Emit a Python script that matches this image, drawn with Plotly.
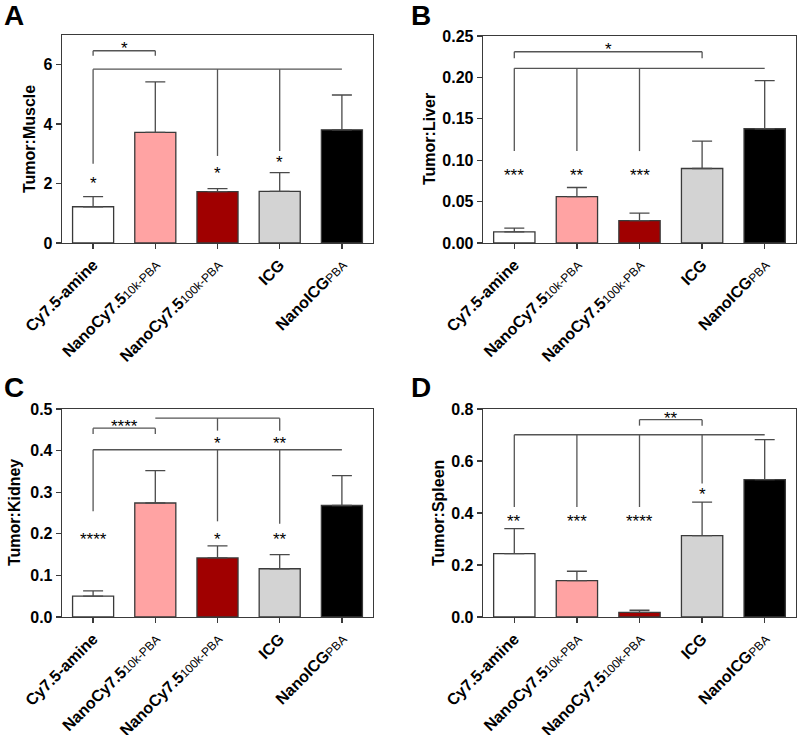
import plotly.graph_objects as go

# ---------------- data ----------------
groups = [0, 1, 2, 3, 4]
tick_labels = [
    "<b>Cy7.5-amine</b>",
    "<b>NanoCy7.5</b><span style='font-size:12px;font-weight:normal'>10k-PBA</span>",
    "<b>NanoCy7.5</b><span style='font-size:12px;font-weight:normal'>100k-PBA</span>",
    "<b>ICG</b>",
    "<b>NanoICG</b><span style='font-size:12px;font-weight:normal'>PBA</span>",
]
bar_colors = ["#FFFFFF", "#FFA3A3", "#A00000", "#D3D3D3", "#000000"]

muscle_mean = [1.22, 3.72, 1.73, 1.74, 3.81]
muscle_err = [0.34, 1.70, 0.10, 0.63, 1.17]

liver_mean = [0.0134, 0.056, 0.027, 0.090, 0.138]
liver_err = [0.0046, 0.011, 0.009, 0.033, 0.058]

kidney_mean = [0.050, 0.274, 0.142, 0.116, 0.268]
kidney_err = [0.013, 0.078, 0.029, 0.034, 0.072]

spleen_mean = [0.244, 0.140, 0.018, 0.313, 0.528]
spleen_err = [0.096, 0.036, 0.008, 0.129, 0.154]

y_titles = ["Tumor:Muscle", "Tumor:Liver", "Tumor:Kidney", "Tumor:Spleen"]
panel_letters = ["A", "B", "C", "D"]
y_ranges = [[0, 7], [0, 0.25], [0, 0.5], [0, 0.8]]
y_dticks = [2, 0.05, 0.1, 0.2]
y_formats = ["d", ".2f", ".1f", ".1f"]

# significance brackets: (x_start, x_end, y, [(x_drop, y_drop_end), ...])
brackets_A = [(0, 1, 6.47, [(0, 6.30), (1, 6.30)]),
              (0, 4, 5.85, [(0, 2.67), (2, 2.93), (3, 3.10)])]
stars_A = [(0.5, 6.68, "*"), (0, 2.15, "*"), (2, 2.47, "*"), (3, 2.83, "*")]

brackets_B = [(0, 3, 0.231, [(0, 0.223), (3, 0.223)]),
              (0, 4, 0.211, [(0, 0.111), (1, 0.111), (2, 0.111)])]
stars_B = [(1.5, 0.238, "*"), (0, 0.086, "***"), (1, 0.086, "**"), (2, 0.086, "***")]

brackets_C = [(0, 1, 0.454, [(0, 0.440), (1, 0.440)]),
              (1, 3, 0.478, [(2, 0.448), (3, 0.448)]),
              (0, 4, 0.402, [(0, 0.254), (2, 0.230), (3, 0.224)])]
stars_C = [(0.5, 0.468, "****"), (2, 0.426, "*"), (3, 0.426, "**"),
           (0, 0.196, "****"), (2, 0.196, "*"), (3, 0.196, "**")]

brackets_D = [(2, 3, 0.759, [(2, 0.736), (3, 0.736)]),
              (0, 4, 0.701, [(0, 0.423), (1, 0.423), (2, 0.423), (3, 0.513)])]
stars_D = [(2.5, 0.778, "**"), (0, 0.383, "**"), (1, 0.383, "***"),
           (2, 0.383, "****"), (3, 0.487, "*")]

means = [muscle_mean, liver_mean, kidney_mean, spleen_mean]
errs = [muscle_err, liver_err, kidney_err, spleen_err]
brackets = [brackets_A, brackets_B, brackets_C, brackets_D]
stars = [stars_A, stars_B, stars_C, stars_D]

# ---------------- layout geometry (pixels) ----------------
W, H = 800, 735
boxes = [(62, 373, 35, 243), (483, 796, 36, 243), (62, 373, 409, 617), (483, 796, 409, 617)]
title_pos = [(29, 139), (429, 139), (14, 513), (438, 513)]
letter_pos = [(14, 15), (421, 15), (14, 387), (421, 387)]

FONT = "Liberation Sans, Arial, sans-serif"
LINE = "#3a3a3a"

fig = go.Figure()
layout = dict(
    width=W, height=H, margin=dict(l=0, r=0, t=0, b=0, pad=0, autoexpand=False),
    paper_bgcolor="white", plot_bgcolor="white", showlegend=False,
    font=dict(family=FONT, color="black"),
)
shapes, annotations = [], []

for i in range(4):
    sfx = "" if i == 0 else str(i + 1)
    xa, ya = "x" + sfx, "y" + sfx
    fig.add_trace(go.Bar(
        x=groups, y=means[i], xaxis=xa, yaxis=ya, width=0.66,
        marker=dict(color=bar_colors, line=dict(color=LINE, width=1.3)),
        error_y=dict(type="data", array=errs[i], arrayminus=[0] * 5, symmetric=False,
                     color="#4a4a4a", thickness=1.3, width=10),
    ))
    x0, x1, y0, y1 = boxes[i]
    layout["xaxis" + sfx] = dict(
        domain=[x0 / W, x1 / W], anchor=ya, range=[-0.5, 4.5], automargin=False,
        tickmode="array", tickvals=groups, ticktext=tick_labels, tickangle=-45,
        tickfont=dict(family=FONT, size=16, color="black"),
        ticks="outside", ticklen=5, tickwidth=1.3, tickcolor=LINE,
        showline=True, mirror=True, linecolor=LINE, linewidth=1.3,
        showgrid=False, zeroline=False, fixedrange=True,
    )
    layout["yaxis" + sfx] = dict(
        domain=[1 - y1 / H, 1 - y0 / H], anchor=xa, range=y_ranges[i], automargin=False,
        dtick=y_dticks[i], tick0=0, tickformat=y_formats[i],
        tickfont=dict(family=FONT, size=16, color="black", weight="bold"),
        ticks="outside", ticklen=5, tickwidth=1.3, tickcolor=LINE,
        showline=True, mirror=True, linecolor=LINE, linewidth=1.3,
        showgrid=False, zeroline=False, fixedrange=True,
    )
    for (bx0, bx1, by, drops) in brackets[i]:
        shapes.append(dict(type="line", xref=xa, yref=ya, x0=bx0, x1=bx1, y0=by, y1=by,
                           line=dict(color="#555555", width=1.3)))
        for (dx, dy) in drops:
            shapes.append(dict(type="line", xref=xa, yref=ya, x0=dx, x1=dx, y0=by, y1=dy,
                               line=dict(color="#555555", width=1.3)))
    for (sx, sy, st) in stars[i]:
        annotations.append(dict(x=sx, y=sy, xref=xa, yref=ya, text=st, showarrow=False,
                                xanchor="center", yanchor="middle", yshift=-4,
                                font=dict(family=FONT, size=17, color="black")))
    tx, ty = title_pos[i]
    annotations.append(dict(x=tx / W, y=1 - ty / H, xref="paper", yref="paper",
                            text="<b>" + y_titles[i] + "</b>", textangle=-90, showarrow=False,
                            xanchor="center", yanchor="middle",
                            font=dict(family=FONT, size=16, color="black")))
    lx, ly = letter_pos[i]
    annotations.append(dict(x=lx / W, y=1 - ly / H, xref="paper", yref="paper",
                            text="<b>" + panel_letters[i] + "</b>", showarrow=False,
                            xanchor="center", yanchor="middle",
                            font=dict(family=FONT, size=28, color="black")))

layout["shapes"] = shapes
layout["annotations"] = annotations
fig.update_layout(**layout)
fig.write_html("out.html", config={"displayModeBar": False, "staticPlot": True},
               post_script="document.body.style.margin='0';document.body.style.padding='0';")
